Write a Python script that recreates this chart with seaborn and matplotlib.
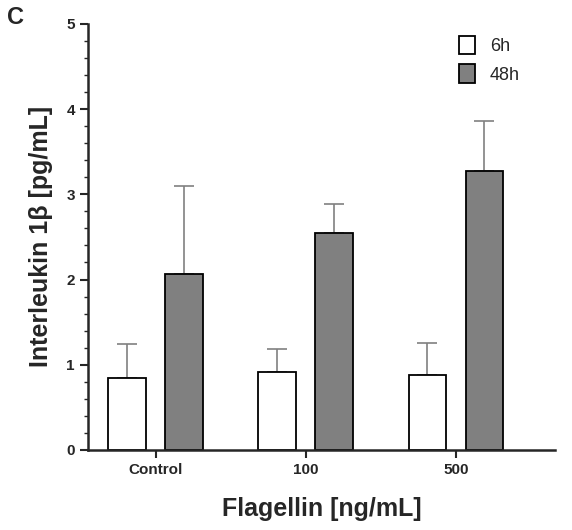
import matplotlib
matplotlib.use("Agg")
import matplotlib.pyplot as plt
import seaborn as sns
import pandas as pd
from matplotlib.ticker import MultipleLocator

groups = ["Control", "100", "500"]
times = ["6h", "48h"]
mean_6h = [0.85, 0.91, 0.88]
err_6h = [0.39, 0.28, 0.37]
mean_48h = [2.07, 2.55, 3.27]
err_48h = [1.03, 0.34, 0.59]

df = pd.DataFrame({
    "group": groups * 2,
    "time": ["6h"] * 3 + ["48h"] * 3,
    "value": mean_6h + mean_48h,
})

sns.set_style("ticks")
plt.rcParams["font.family"] = ["Liberation Sans", "DejaVu Sans"]
fig = plt.figure(figsize=(5.72, 5.30), dpi=100)
ax = fig.add_axes([0.154, 0.151, 0.816, 0.804])
sns.barplot(data=df, x="group", y="value", hue="time", order=groups, hue_order=times,
            palette={"6h": "white", "48h": "#808080"}, width=0.76,
            edgecolor="black", linewidth=1.3, errorbar=None, ax=ax)

bw = 0.25
errs = {"6h": err_6h, "48h": err_48h}
means = {"6h": mean_6h, "48h": mean_48h}
for cont, t in zip(ax.containers, times):
    for i, p in enumerate(cont.patches):
        c = p.get_x() + p.get_width() / 2
        p.set_x(c - bw / 2)
        p.set_width(bw)
        ax.errorbar(c, means[t][i], yerr=[[0], [errs[t][i]]], fmt="none",
                    ecolor="#808080", elinewidth=1.2, capsize=7, capthick=1.2, zorder=0)

ax.set_ylim(0, 5)
ax.set_xlim(-0.45, 2.66)
ax.yaxis.set_major_locator(MultipleLocator(1))
ax.yaxis.set_minor_locator(MultipleLocator(0.2))
ax.tick_params(axis="y", which="major", length=6, width=1.5, labelsize=11)
ax.tick_params(axis="y", which="minor", length=3, width=1)
ax.tick_params(axis="x", length=6, width=1.5, labelsize=11)
for lab in ax.get_xticklabels() + ax.get_yticklabels():
    lab.set_fontweight("bold")
for s in ["left", "bottom"]:
    ax.spines[s].set_linewidth(1.8)
sns.despine(ax=ax)
ax.set_xlabel("Flagellin [ng/mL]", fontsize=18, fontweight="bold", labelpad=14)
ax.set_ylabel("Interleukin 1β [pg/mL]", fontsize=18, fontweight="bold", labelpad=10)
leg = ax.legend(loc="upper right", frameon=False, fontsize=13, handlelength=0.9,
                handleheight=1.2, bbox_to_anchor=(0.96, 1.01))
fig.text(0.012, 0.955, "C", fontsize=17, fontweight="bold")
fig.savefig("out.png", dpi=100)
